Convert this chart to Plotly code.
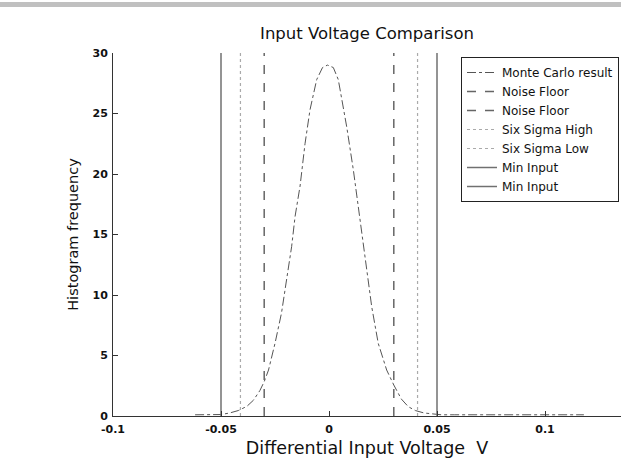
import plotly.graph_objects as go

# Monte Carlo histogram (bin centres, counts)
mc_x = [-0.062, -0.058, -0.054, -0.050, -0.046, -0.042, -0.038, -0.035, -0.032,
        -0.030, -0.028, -0.025, -0.022, -0.0196, -0.0173, -0.0157, -0.0134,
        -0.0111, -0.0088, -0.0057, -0.003, -0.0007,
        0.002, 0.0043, 0.0082, 0.0113, 0.0144, 0.0167, 0.0198, 0.0228, 0.0267,
        0.030, 0.0335, 0.0367, 0.040, 0.044, 0.048, 0.052, 0.058, 0.064, 0.070,
        0.076, 0.082, 0.088, 0.094, 0.100, 0.106, 0.112, 0.118]
mc_y = [0.1, 0.1, 0.1, 0.12, 0.25, 0.45, 0.8, 1.3, 2.1,
        2.84, 3.8, 6.0, 8.5, 11.5, 14.0, 16.5, 19.0,
        22.5, 25.3, 27.8, 28.8, 29.0,
        28.8, 27.8, 23.9, 20.3, 16.2, 12.9, 9.0, 6.0, 3.8,
        2.56, 1.4, 0.77, 0.45, 0.25, 0.15, 0.1, 0.1, 0.1, 0.1,
        0.1, 0.1, 0.1, 0.1, 0.12, 0.1, 0.1, 0.1]

noise_floor = [0.03, -0.03]
six_sigma = [0.041, -0.041]
six_sigma_names = ["Six Sigma High", "Six Sigma Low"]
min_input = [0.05, -0.05]
y_span = [0, 30]

x_ticks = [-0.1, -0.05, 0, 0.05, 0.1]
x_tick_labels = ["-0.1", "-0.05", "0", "0.05", "0.1"]
y_ticks = [0, 5, 10, 15, 20, 25, 30]

FONT = "DejaVu Sans, Verdana, sans-serif"

fig = go.Figure()
fig.add_trace(go.Scatter(x=mc_x, y=mc_y, mode="lines", name="Monte Carlo result",
                         line=dict(color="#555555", width=1, dash="dashdot")))
for v in noise_floor:
    fig.add_trace(go.Scatter(x=[v, v], y=y_span, mode="lines", name="Noise Floor",
                             line=dict(color="#666666", width=1.5, dash="dash")))
for v, n in zip(six_sigma, six_sigma_names):
    fig.add_trace(go.Scatter(x=[v, v], y=y_span, mode="lines", name=n,
                             line=dict(color="#aaaaaa", width=1.2, dash="dot")))
for v in min_input:
    fig.add_trace(go.Scatter(x=[v, v], y=y_span, mode="lines", name="Min Input",
                             line=dict(color="#707070", width=1.5)))

tick_font = dict(family=FONT, size=11, color="#111111", weight="bold")

fig.update_layout(
    width=621, height=466, autosize=False,
    margin=dict(l=113, r=0, t=53, b=50),
    paper_bgcolor="white", plot_bgcolor="white",
    title=dict(text="Input Voltage Comparison", x=0.5, xref="paper", xanchor="center",
               y=(466 - 33) / 466, yref="container", yanchor="middle",
               font=dict(family=FONT, size=16.5, color="#111111")),
    showlegend=True,
    legend=dict(x=(461 - 113) / 508, y=(416 - 57) / 363, xanchor="left", yanchor="top",
                bgcolor="white", bordercolor="#222222", borderwidth=1,
                font=dict(family=FONT, size=12, color="#111111"),
                tracegroupgap=0, itemwidth=30),
    xaxis=dict(range=[-0.1, -0.1 + 508 / 432 * 0.2], tickvals=x_ticks, ticktext=x_tick_labels,
               showgrid=False, zeroline=False, showline=True, linecolor="#333333", linewidth=1,
               ticks="inside", ticklen=5, tickcolor="#333333", tickfont=tick_font,
               ticklabelstandoff=3,
               title=dict(text="Differential Input Voltage  V", standoff=6,
                          font=dict(family=FONT, size=17.5, color="#111111"))),
    yaxis=dict(range=[0, 30], tickvals=y_ticks, showgrid=False, zeroline=False,
               showline=True, linecolor="#333333", linewidth=1,
               ticks="inside", ticklen=5, tickcolor="#333333", tickfont=tick_font,
               ticklabelstandoff=2,
               title=dict(text="Histogram frequency", standoff=10,
                          font=dict(family=FONT, size=14.5, color="#111111"))),
    shapes=[dict(type="rect", xref="paper", yref="paper", x0=-113 / 508, x1=1,
                 y0=(416 - 7) / 363, y1=(416 - 2) / 363,
                 fillcolor="#c0c0c0", line=dict(width=0), layer="above")],
)

fig.write_html(
    "out.html",
    config={"displayModeBar": False, "responsive": False},
    post_script=(
        "document.documentElement.style.overflow='hidden';"
        "document.body.style.overflow='hidden';"
        "document.body.style.margin='0';"
    ),
)
